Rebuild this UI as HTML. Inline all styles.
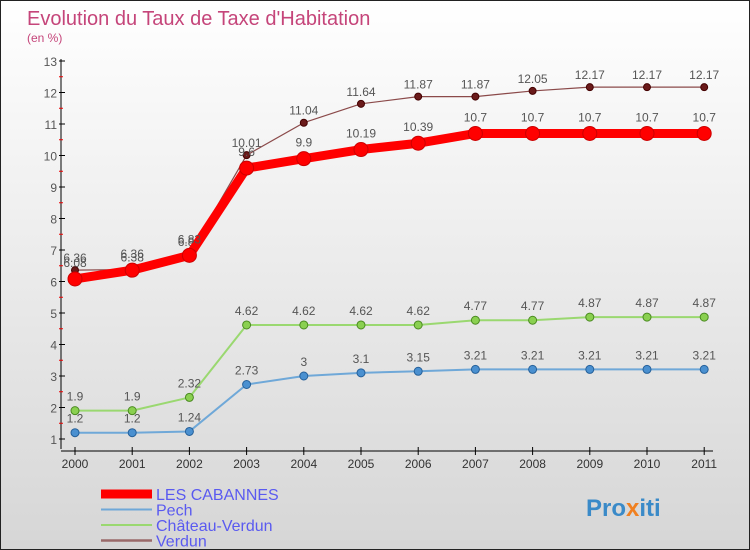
<!DOCTYPE html>
<html><head><meta charset="utf-8"><style>
body{margin:0}
#c{width:748px;height:548px;border:1px solid #222;background:linear-gradient(#fff,#d6d6d6);position:relative;font-family:"Liberation Sans",sans-serif;overflow:hidden}
</style></head><body>
<div id="c">
<svg id="s" width="748" height="548" style="position:absolute;left:0;top:0"></svg>
</div>
<script>
const years=[2000,2001,2002,2003,2004,2005,2006,2007,2008,2009,2010,2011];
const yTicks=[1,2,3,4,5,6,7,8,9,10,11,12,13];
const cabannes=[6.08,6.36,6.83,9.6,9.9,10.19,10.39,10.7,10.7,10.7,10.7,10.7];
const pech=[1.2,1.2,1.24,2.73,3,3.1,3.15,3.21,3.21,3.21,3.21,3.21];
const chateau=[1.9,1.9,2.32,4.62,4.62,4.62,4.62,4.77,4.77,4.87,4.87,4.87];
const verdun=[6.36,6.38,6.88,10.01,11.04,11.64,11.87,11.87,12.05,12.17,12.17,12.17];
const NS="http://www.w3.org/2000/svg",s=document.getElementById('s');
const X=i=>74+i*57.2, Y=v=>60+(13-v)*31.5;
function el(t,a,p){const e=document.createElementNS(NS,t);for(const k in a)e.setAttribute(k,a[k]);(p||s).appendChild(e);return e;}
function tx(x,y,str,a){const e=el('text',Object.assign({x:x,y:y},a));e.textContent=str;return e;}
let t=tx(26,24,"Evolution du Taux de Taxe d'Habitation",{'font-size':20,fill:'#c5457a'});

t=tx(26,41,"(en %)",{'font-size':12,fill:'#c5457a'});

let a=el('line',{x1:60,y1:58,x2:60,y2:448,stroke:'#000'});

a=el('line',{x1:60,y1:450,x2:712,y2:450,stroke:'#000'});

yTicks.forEach(v=>{
 el('line',{x1:58,x2:64,y1:Y(v),y2:Y(v),stroke:'#000'});
 if(v<13)el('line',{x1:58,x2:62,y1:Y(v+0.5),y2:Y(v+0.5),stroke:'#e00'});
 const e=tx(56,Y(v)+5,String(v),{'font-size':12,fill:'#555','text-anchor':'end'});
 
});
years.forEach((yr,i)=>{
 el('line',{x1:X(i),x2:X(i),y1:446,y2:454,stroke:'#000'});
 const e=tx(X(i),467,String(yr),{'font-size':12,fill:'#333','text-anchor':'middle'});
 
});
function series(vals,name,col,w,r,dot,dotStroke,lblDy){
 const g=el('g',{});
 
 
 el('polyline',{points:vals.map((v,i)=>X(i)+','+Y(v)).join(' '),fill:'none',stroke:col,'stroke-width':w,'stroke-linejoin':'round'},g);
 vals.forEach((v,i)=>{
  const c=el('circle',{cx:X(i),cy:Y(v),r:r,fill:dot,stroke:dotStroke,'stroke-width':1},g);
  
  const l=tx(X(i),Y(v)+lblDy,String(v),{'font-size':12,fill:'#555','text-anchor':'middle'},g);
  
 });
}
series(verdun,'verdun','#8b4a4a',1.2,3.5,'#6a1a1a','#400',-8);
series(cabannes,'les-cabannes','#f00',9,7,'#f00','#c00',-12);
series(chateau,'chateau-verdun','#9ad870',2,4,'#8ad050','#4a8a20',-10);
series(pech,'pech','#6fa8d8',2,4,'#4a90d0','#25609a',-10);
const leg=[['LES CABANNES','#f00',9],['Pech','#6fa8d8',2],['Château-Verdun','#9ad870',2],['Verdun','#9a6a6a',2.5]];
leg.forEach((l,i)=>{
 const y=493+i*15.5;
 const g=el('g',{});
 
 el('line',{x1:100,x2:151,y1:y,y2:y,stroke:l[1],'stroke-width':l[2]},g);
 tx(155,y+6,l[0],{'font-size':16,fill:'#5a5af0'},g);
});
t=tx(585,515,"Pro",{'font-size':24,'font-weight':'bold',fill:'#3a8ac8'});

const ts=el('tspan',{fill:'#f08020'},t);ts.textContent='x';
const ts2=el('tspan',{fill:'#3a8ac8'},t);ts2.textContent='iti';
</script>
</body></html>
